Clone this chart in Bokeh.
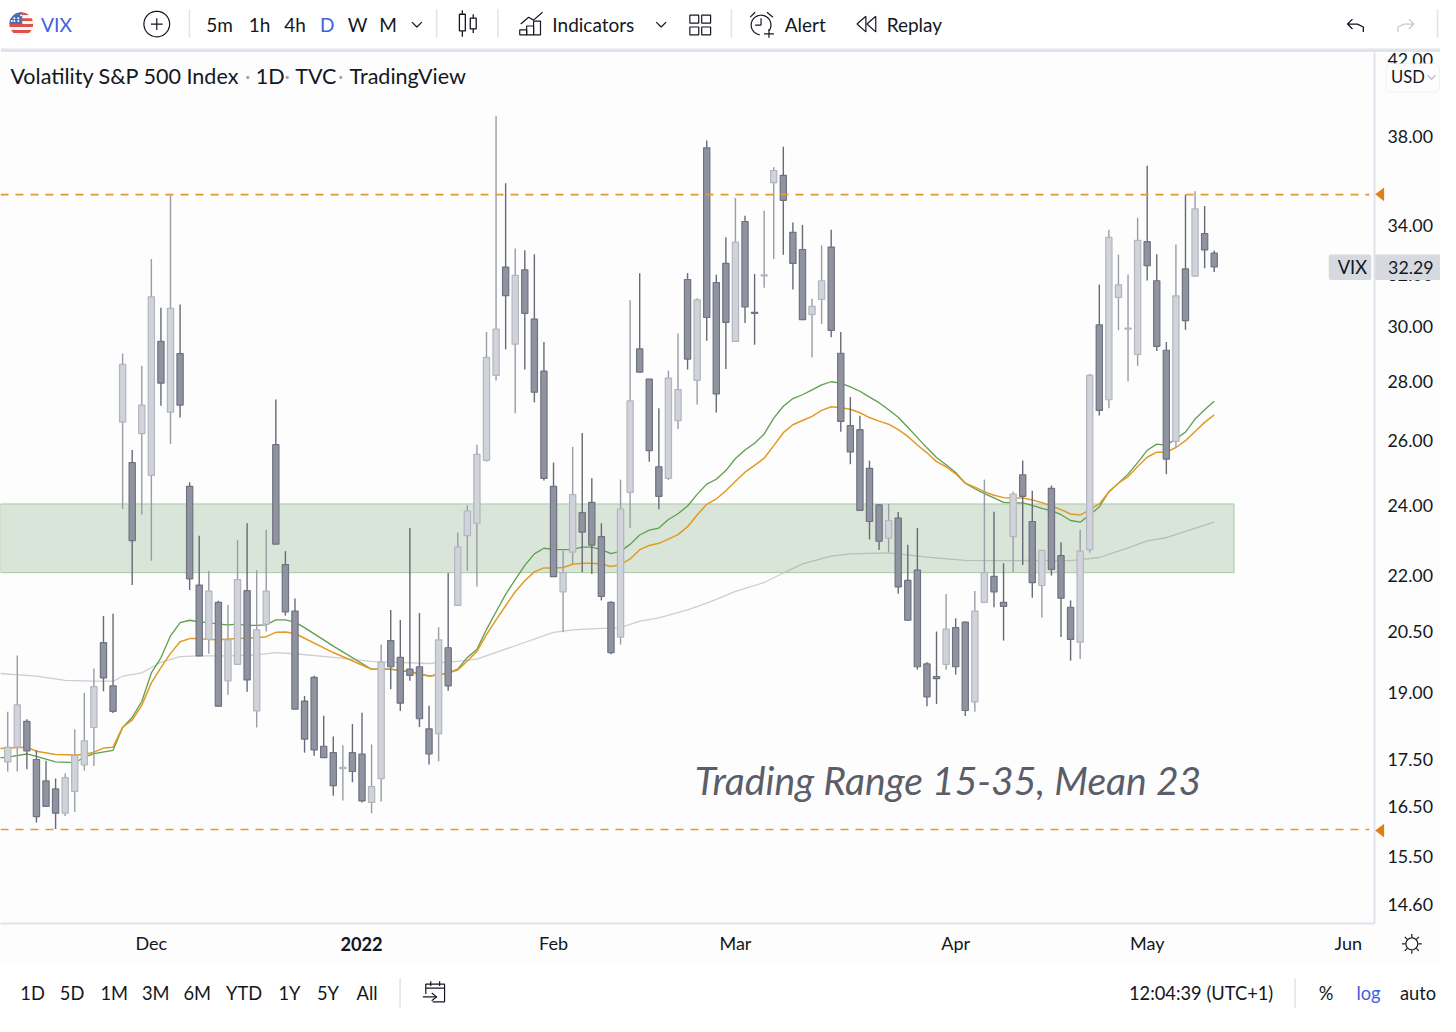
import numpy as np
from bokeh.plotting import figure
from bokeh.layouts import column, row
from bokeh.embed import file_html
from bokeh.resources import INLINE
from bokeh.models import Range1d, FixedTicker, PrintfTickFormatter, Label, BoxAnnotation, PolyAnnotation

opens = [17.44,17.76,18.34,17.49,17.03,16.86,16.36,16.81,17.37,18.20,20.23,19.17,26.62,25.31,26.24,24.91,29.43,26.95,28.99,24.57,21.73,20.31,21.27,19.29,19.69,21.58,18.58,20.70,25.88,22.29,21.04,18.81,19.37,17.78,17.64,17.29,17.64,17.61,16.58,17.08,20.28,19.86,19.57,19.63,18.17,18.06,20.10,21.19,23.11,23.47,25.38,28.21,32.28,29.33,32.17,30.26,28.36,24.57,21.55,22.64,23.78,24.09,23.08,21.27,20.37,24.39,29.16,28.08,25.18,24.82,26.67,31.79,28.04,37.45,31.67,32.43,29.43,34.17,30.52,31.93,35.86,36.19,33.71,33.00,30.43,31.01,33.10,29.00,26.50,26.37,25.13,24.01,23.04,23.62,21.86,22.14,19.70,19.39,19.69,20.61,20.75,18.79,21.27,21.97,21.27,23.08,24.93,23.52,21.72,24.51,22.54,21.14,20.24,22.71,30.04,27.37,31.09,29.88,28.96,33.32,31.74,29.11,25.99,32.21,31.92,33.66,32.85]
highs = [18.56,19.91,18.39,17.69,17.46,17.08,17.19,18.16,19.00,19.59,20.91,20.97,28.99,25.71,28.55,32.61,30.69,35.30,30.82,24.70,23.11,22.12,21.31,21.20,22.98,23.47,22.14,23.28,27.38,22.67,21.37,18.93,19.41,18.47,18.00,17.80,18.28,18.54,17.82,20.18,21.07,20.81,23.33,20.99,18.70,20.62,22.06,23.20,24.00,25.88,29.78,38.95,35.84,33.04,32.97,32.80,29.41,25.31,22.67,25.81,26.26,24.82,23.47,21.30,24.78,30.98,32.04,28.09,27.08,28.38,29.72,32.04,31.06,37.79,31.98,33.51,35.18,34.41,32.01,34.63,36.56,37.50,34.13,34.02,31.04,33.16,33.82,29.78,27.46,26.83,25.37,24.03,24.04,23.80,22.85,23.33,19.74,20.51,21.49,20.85,20.76,21.57,24.78,23.81,22.33,24.41,25.38,24.44,22.70,24.60,22.92,21.32,23.28,28.27,31.59,33.82,32.78,31.99,34.33,36.63,32.80,29.41,33.20,35.33,35.48,34.83,32.96]
lows = [17.23,17.23,17.28,16.17,16.49,16.04,16.30,16.39,17.25,17.35,19.04,18.53,23.89,21.73,23.73,22.40,27.17,25.90,26.77,21.60,19.89,19.95,18.68,18.96,19.68,19.03,18.20,20.51,22.86,20.92,18.62,17.64,17.57,17.53,16.72,16.62,17.00,16.58,16.36,16.60,19.09,18.58,19.29,18.21,17.38,17.45,19.05,21.18,22.12,21.69,25.34,28.03,29.14,26.91,28.42,27.28,24.75,21.95,20.49,22.31,22.08,22.03,21.32,19.94,20.18,23.33,28.31,25.34,23.88,24.77,26.39,28.42,27.21,29.46,26.94,28.44,29.42,30.11,29.31,31.46,32.61,32.78,31.40,30.22,28.85,30.08,29.58,26.30,25.26,23.84,23.00,22.70,22.64,21.50,20.79,19.56,18.69,18.74,19.56,19.44,18.46,18.56,21.25,21.14,20.28,22.09,22.28,21.39,20.87,21.99,20.37,19.78,19.82,22.62,26.84,27.08,29.84,28.01,28.55,31.75,29.08,24.95,25.80,29.86,31.91,32.24,32.09]
closes = [17.76,18.72,17.68,16.29,16.50,16.36,17.10,17.58,17.90,19.15,19.36,18.57,28.60,22.97,27.19,31.11,27.94,30.67,27.19,21.90,19.90,21.57,18.69,20.30,21.88,19.31,20.55,21.57,22.87,21.02,18.62,17.94,17.70,17.53,16.93,17.32,17.23,16.61,16.91,19.74,19.63,18.76,19.42,18.40,17.61,20.30,19.17,22.78,23.83,25.57,28.85,29.89,31.16,31.95,30.48,27.63,24.82,21.96,22.07,24.32,23.21,22.84,21.43,19.98,23.89,27.33,28.33,25.69,24.27,28.12,27.72,28.79,30.99,30.32,27.57,30.14,33.30,30.72,30.48,31.97,36.41,35.08,32.43,30.24,30.74,31.74,29.84,26.64,25.65,23.85,23.52,22.95,23.55,21.68,20.80,19.63,18.91,19.34,20.57,19.63,18.59,21.04,22.07,21.55,21.16,24.34,24.27,21.80,22.69,22.16,21.38,20.31,22.67,28.21,27.01,33.50,31.58,29.92,33.38,32.34,29.25,25.42,31.15,30.20,34.71,32.98,32.29]

green_idx = [-1,0,2,3,5,7,8,9,11,12,13,14,15,16,17,18,19,20,21,22,23,24,25,26,27,28,29,30,31,34,38,40,42,44,45,46,47,48,49,50,51,52,53,54,55,56,57,58,59,60,61,62,63,64,65,66,67,68,69,70,71,72,73,74,75,76,77,78,79,80,81,82,83,84,85,86,87,88,89,90,91,92,93,94,95,96,97,98,99,100,101,102,103,104,105,106,107,108,109,110,111,112,113,114,115,116,117,118,119,120,121,122,123,124,125,126]
green_val = [17.52,17.54,17.61,17.56,17.44,17.42,17.54,17.62,17.69,18.20,18.43,18.80,19.48,19.85,20.40,20.74,20.80,20.76,20.74,20.70,20.68,20.70,20.67,20.67,20.68,20.81,20.81,20.75,20.61,20.14,19.57,19.57,19.51,19.41,19.43,19.48,19.57,19.86,20.06,20.56,21.02,21.48,21.88,22.27,22.59,22.75,22.72,22.71,22.72,22.78,22.78,22.71,22.60,22.67,22.86,23.13,23.27,23.33,23.58,23.75,23.98,24.33,24.64,24.79,25.06,25.44,25.71,25.93,26.23,26.75,27.15,27.41,27.54,27.71,27.88,27.99,27.94,27.81,27.66,27.46,27.27,27.03,26.78,26.45,26.11,25.78,25.47,25.24,25.00,24.67,24.50,24.35,24.22,24.09,24.07,24.07,24.00,23.91,23.84,23.72,23.55,23.50,23.72,23.95,24.41,24.67,24.95,25.31,25.70,25.90,25.87,26.06,26.29,26.72,27.03,27.32]
orange_idx = [-1,0,2,3,5,7,8,9,10,11,12,13,14,15,16,17,18,19,20,21,22,24,26,27,28,29,30,31,34,38,40,42,44,46,47,48,49,50,51,52,53,54,55,56,57,58,59,60,61,62,63,64,65,66,67,68,69,70,71,72,73,74,75,76,77,78,79,80,81,82,83,84,85,86,87,88,89,90,91,92,93,94,95,96,97,98,99,100,101,102,103,104,105,106,107,108,109,110,111,112,113,114,115,116,117,118,119,120,121,122,123,124,125,126]
orange_val = [17.73,17.74,17.76,17.67,17.60,17.59,17.60,17.65,17.74,17.76,18.21,18.37,18.71,19.24,19.61,19.96,20.25,20.33,20.33,20.31,20.30,20.33,20.35,20.38,20.49,20.50,20.46,20.34,19.98,19.57,19.57,19.51,19.40,19.48,19.55,19.77,20.01,20.43,20.81,21.18,21.55,21.85,22.09,22.20,22.20,22.21,22.30,22.33,22.33,22.31,22.24,22.29,22.45,22.71,22.83,22.89,23.01,23.14,23.37,23.71,24.03,24.19,24.44,24.73,25.01,25.22,25.45,25.85,26.27,26.53,26.67,26.81,27.01,27.13,27.10,27.05,26.93,26.77,26.65,26.55,26.37,26.15,25.87,25.62,25.34,25.18,24.96,24.67,24.55,24.41,24.30,24.23,24.22,24.22,24.16,24.08,23.98,23.87,23.74,23.71,23.87,24.04,24.40,24.67,24.87,25.19,25.48,25.64,25.64,25.79,26.01,26.31,26.61,26.86]
gray_idx = [-1,3,6,9,11,12,14,16,18,20,23,26,28,30,34,38,44,47,49,53,57,59,62,64,66,68,71,73,74,76,79,81,83,86,88,92,96,100,104,107,111,114,117,119,121,123,126]
gray_val = [19.47,19.40,19.30,19.28,19.28,19.40,19.48,19.74,19.88,19.90,19.90,19.92,19.98,19.95,19.86,19.76,19.71,19.76,19.82,20.15,20.49,20.55,20.59,20.61,20.78,20.86,21.07,21.25,21.35,21.56,21.80,22.06,22.31,22.53,22.59,22.62,22.50,22.41,22.40,22.41,22.40,22.49,22.76,22.96,23.05,23.23,23.50]

range_high = 35.33
range_low = 16.03
mean_band_top = 24.04
mean_band_bottom = 22.07
band_end_idx = 128.07
y_ticks = [42,38,34,32,30,28,26,24,22,20.5,19,17.5,16.5,15.5,14.6]
x_tick_idx = [15,37,57,76,99,119,140]
x_tick_labels = ["Dec","","Feb","Mar","Apr","May","Jun"]
year_label = "2022"

FONT = "Lato"
INK = "#131722"
BLUE = "#3f5fe0"
SEP = "#e0e3eb"
BG = "#fdfdfd"
KX = 1440 / 1456
KY = 1016 / 1032
H_TOP, H_MAIN, H_BOT = 52, 914, 50


def SX(x):
    return np.asarray(x, dtype=float) * KX


def SY(y):
    return np.asarray(y, dtype=float) * KY


def put(fig, txt, x, y, size, off, color=INK, align="left", style="normal"):
    fig.add_layout(Label(x=float(SX(x)), y=float(SY(y)) - off, x_units="canvas", y_units="canvas",
                         text=txt, text_font=FONT, text_font_size=f"{size * KX:.2f}px", text_color=color, text_align=align,
                         text_baseline="middle", text_font_style=style))


def strip(h, y0, y1):
    f = figure(width=1440, height=h, output_backend="svg", toolbar_location=None, frame_align=False,
               x_range=Range1d(0, 1456), y_range=Range1d(y1, y0), x_axis_location=None, y_axis_location=None,
               min_border=0, background_fill_color="white", border_fill_color="white", outline_line_color=None)
    f.grid.visible = False
    return f


# ---------- top toolbar ----------
top = strip(H_TOP, 0, 53)
top.quad(left=0, right=1456, top=49, bottom=53, fill_color=SEP, line_color=None)
cx, cy, r = 21, 24, 12
bands = [(12, 15, "#d9534a"), (15, 18, "#f4f4f4"), (18, 21, "#d9534a"), (21, 24, "#f4f4f4"),
         (24, 27, "#d9534a"), (27, 30, "#f4f4f4"), (30, 33, "#d9534a"), (33, 36, "#f4f4f4")]
for a, b, c in bands:
    ys = np.linspace(a, b, 8)
    w = np.sqrt(np.maximum(r ** 2 - (ys - cy) ** 2, 0))
    top.patch(list(cx - w) + list(cx + w)[::-1], list(ys) + list(ys)[::-1], fill_color=c, line_color=None)
ys = np.linspace(12, 24, 14)
w = np.sqrt(np.maximum(r ** 2 - (ys - cy) ** 2, 0))
top.patch(list(cx - w) + [cx + 1, cx + 1], list(ys) + [24, 12], fill_color="#4a6fb5", line_color=None)
top.scatter([14, 18, 14, 18, 11.5, 21], [18, 18, 21, 21, 21, 15], size=2, color="white", line_color=None)
put(top, "VIX", 41, 24, 19.5, 0, color=BLUE)
a = np.linspace(0, 2 * np.pi, 50)
top.line(158 + 13 * np.cos(a), 24 + 13 * np.sin(a), line_color=INK, line_width=1.2)
top.multi_line([[152, 164], [158, 158]], [[24, 24], [18, 30]], line_color=INK, line_width=1.2)
for sx in [191, 441, 503, 739, 1453]:
    top.segment(sx, 9, sx, 38, line_color=SEP, line_width=1.5)
for txt, x, c in [("5m", 208, INK), ("1h", 251, INK), ("4h", 287, INK), ("D", 323, BLUE), ("W", 351, INK), ("M", 383, INK),
                  ("Indicators", 558, INK), ("Alert", 793, INK), ("Replay", 896, INK)]:
    put(top, txt, x, 24, 19.2, 0, color=c)
for c0 in [421, 668]:
    top.line([c0 - 5, c0, c0 + 5], [22, 27, 22], line_color=INK, line_width=1.2)
top.multi_line([[467, 467], [467, 467], [478, 478], [478, 478]], [[10, 14], [31, 37], [14, 18], [29, 33]], line_color=INK, line_width=1.3)
top.quad(left=[464, 475], right=[470, 481], top=[14, 18], bottom=[31, 29], fill_color=None, line_color=INK, line_width=1.3)
top.line([526, 534, 539, 548], [24, 17, 20, 12], line_color=INK, line_width=1.2)
top.quad(left=[525, 532, 539], right=[532, 539, 546], top=[30, 26, 21], bottom=[35, 35, 35], fill_color=None, line_color=INK, line_width=1.2)
top.quad(left=[697, 709, 697, 709], right=[706, 718, 706, 718], top=[15, 15, 27, 27], bottom=[23, 23, 35, 35],
         fill_color=None, line_color=INK, line_width=1.2)
a = np.linspace(-0.6, 4.6, 40)
top.line(769 + 10 * np.cos(a), 25 - 10 * np.sin(a), line_color=INK, line_width=1.2)
top.multi_line([[769, 769, 763], [777, 777], [772, 782], [758, 763], [775, 781]], [[18, 25, 25], [29, 38], [34, 34], [17, 12], [12, 17]],
               line_color=INK, line_width=1.2)
top.multi_line([[875, 866, 875, 875], [885, 876, 885, 885]], [[16, 24, 32, 16], [16, 24, 32, 16]], line_color=INK, line_width=1.2)
top.line([1367, 1362, 1367, 1362, 1372, 1378, 1378], [19, 24, 29, 24, 24, 27, 32], line_color=INK, line_width=1.3)
top.line([1424, 1429, 1424, 1429, 1419, 1413, 1413], [19, 24, 29, 24, 24, 27, 32], line_color="#c8cad2", line_width=1.3)

# ---------- main chart ----------
p = figure(width=1440, height=H_MAIN, output_backend="svg", toolbar_location=None, frame_align=False,
           x_range=Range1d(-0.754, 142.74), y_range=Range1d(14.26, 42.17), y_axis_type="log", y_axis_location="right",
           background_fill_color=BG, border_fill_color=BG, outline_line_color=None,
           min_border_left=0, min_border_top=0, min_border_right=66, min_border_bottom=43)
p.grid.visible = False
p.yaxis.ticker = FixedTicker(ticks=y_ticks)
p.yaxis.formatter = PrintfTickFormatter(format="%.2f")
p.yaxis.major_tick_line_color = None
p.yaxis.major_tick_out = 0
p.yaxis.major_tick_in = 0
p.yaxis.minor_tick_line_color = None
p.yaxis.axis_line_color = SEP
p.yaxis.axis_line_width = 2
p.yaxis.major_label_text_font = FONT
p.yaxis.major_label_text_font_size = "17.8px"
p.yaxis.major_label_text_color = INK
p.yaxis.major_label_standoff = 13
p.xaxis.ticker = FixedTicker(ticks=x_tick_idx)
p.xaxis.major_label_overrides = dict(zip(x_tick_idx, x_tick_labels))
p.xaxis.major_tick_line_color = None
p.xaxis.major_tick_out = 0
p.xaxis.major_tick_in = 0
p.xaxis.minor_tick_line_color = None
p.xaxis.axis_line_color = SEP
p.xaxis.axis_line_width = 2
p.xaxis.major_label_text_font = FONT
p.xaxis.major_label_text_font_size = "18px"
p.xaxis.major_label_text_color = INK
p.xaxis.major_label_standoff = 8

idx = np.arange(len(opens))
o, h, l, c = map(np.array, (opens, highs, lows, closes))
up = c >= o
p.line(gray_idx, gray_val, line_color="#cdced5", line_width=1.3)
p.quad(left=[-0.754], right=[band_end_idx], top=[mean_band_top], bottom=[mean_band_bottom],
       fill_color="#498544", fill_alpha=0.2, line_color="#a9c9a5", line_width=1)
p.line(green_idx, green_val, line_color="#5f9e4f", line_width=1.3)
p.line(orange_idx, orange_val, line_color="#e39a22", line_width=1.5)
p.segment(idx[up], h[up], idx[up], l[up], line_color="#9a9ca6", line_width=1.4)
p.segment(idx[~up], h[~up], idx[~up], l[~up], line_color="#686a76", line_width=1.4)
p.vbar(idx[up], width=0.65, top=c[up], bottom=o[up], fill_color="#d1d3db", line_color="#b4b6bf", line_width=1.2)
p.vbar(idx[~up], width=0.65, top=o[~up], bottom=c[~up], fill_color="#9093a0", line_color="#6f7280", line_width=1.2)
for lvl in (range_high, range_low):
    p.line([-0.754, 142.2], [lvl, lvl], line_color="#e39a2c", line_width=1.6, line_dash="8 7")

# ---------- transparent layer over the chart, for what sits on the scales ----------
M = H_TOP
over = figure(width=1440, height=H_MAIN, output_backend="svg", toolbar_location=None, frame_align=False,
              x_range=Range1d(0, 1456), y_range=Range1d(981, 53), x_axis_location=None, y_axis_location=None,
              min_border=0, background_fill_alpha=0, border_fill_alpha=0, outline_line_color=None,
              margin=(0, 0, 0, -1440))
over.grid.visible = False
over.styles = {"pointer-events": "none"}

put(over, "Volatility S&P 500 Index", 10, 77, 21.8, M)
put(over, "1D", 258, 77, 21.8, M)
put(over, "TVC", 298, 77, 21.8, M)
put(over, "TradingView", 353, 77, 21.8, M)
for dx in (250, 290, 344):
    put(over, "·", dx, 77, 21, M, color="#a0a3ad", align="center")
put(over, "Trading Range 15-35, Mean 23", 702, 791, 39.5, M, color="#5b5d69", style="italic")
put(over, year_label, 365, 958, 18.4, M, style="bold", align="center")


def box(x0, x1, y0, y1, **kw):
    over.add_layout(BoxAnnotation(left=float(SX(x0)), right=float(SX(x1)), top=float(SY(y0)) - M, bottom=float(SY(y1)) - M,
                                  left_units="canvas", right_units="canvas", top_units="canvas", bottom_units="canvas",
                                  fill_alpha=1, **kw))


box(1343, 1386, 258, 284, fill_color="#d6d9e0", line_color=None, border_radius=2)
box(1390, 1456, 258, 284, fill_color="#d6d9e0", line_color=None)
put(over, "VIX", 1352, 271, 18.5, M)
put(over, "32.29", 1403, 271, 18, M)
box(1401, 1455, 64, 93, fill_color=BG, line_color="#d1d4dc", line_width=1, border_radius=5)
put(over, "USD", 1406, 78, 16.8, M)
over.add_layout(PolyAnnotation(xs=[float(v) for v in SX([1443, 1447, 1451, 1447])], ys=[float(v) - M for v in SY([76, 80, 76, 80])],
                               xs_units="canvas", ys_units="canvas", fill_alpha=0, line_color=INK, line_width=1.2))
for yy in (197, 843):
    over.patch([1390, 1399, 1399], [yy, yy - 7, yy + 7], fill_color="#e07f15", line_color=None)
a = np.linspace(0, 2 * np.pi, 30)
over.line(1427 + 6 * np.cos(a), 958 + 6 * np.sin(a), line_color=INK, line_width=1.2)
for t in np.arange(8) * np.pi / 4:
    over.line([1427 + 6.5 * np.cos(t), 1427 + 10 * np.cos(t)], [958 + 6.5 * np.sin(t), 958 + 10 * np.sin(t)], line_color=INK, line_width=1.2)

# ---------- bottom toolbar ----------
O = H_TOP + H_MAIN
bot = strip(H_BOT, 981, 1032)
for txt, x in [("1D", 20), ("5D", 60), ("1M", 101), ("3M", 143), ("6M", 185), ("YTD", 228), ("1Y", 281), ("5Y", 320), ("All", 360),
               ("12:04:39 (UTC+1)", 1141), ("%", 1333)]:
    put(bot, txt, x, 1008, 18.5, O)
put(bot, "log", 1371, 1008, 18.5, O, color=BLUE)
put(bot, "auto", 1415, 1008, 18.5, O)
for sx in (404, 1309):
    bot.segment(sx, 993, sx, 1023, line_color=SEP, line_width=1.5)
bot.line([430, 430, 449, 449, 437], [1009, 999, 999, 1017, 1017], line_color=INK, line_width=1.2)
bot.multi_line([[430, 449], [435, 435], [444, 444], [427, 441], [436, 441, 436]], [[1003, 1003], [996, 1001], [996, 1001], [1012, 1012], [1008, 1012, 1016]],
               line_color=INK, line_width=1.2)

page = column(top, row(p, over, spacing=0), bot, spacing=0)
open("out.html", "w").write(file_html(page, INLINE))
